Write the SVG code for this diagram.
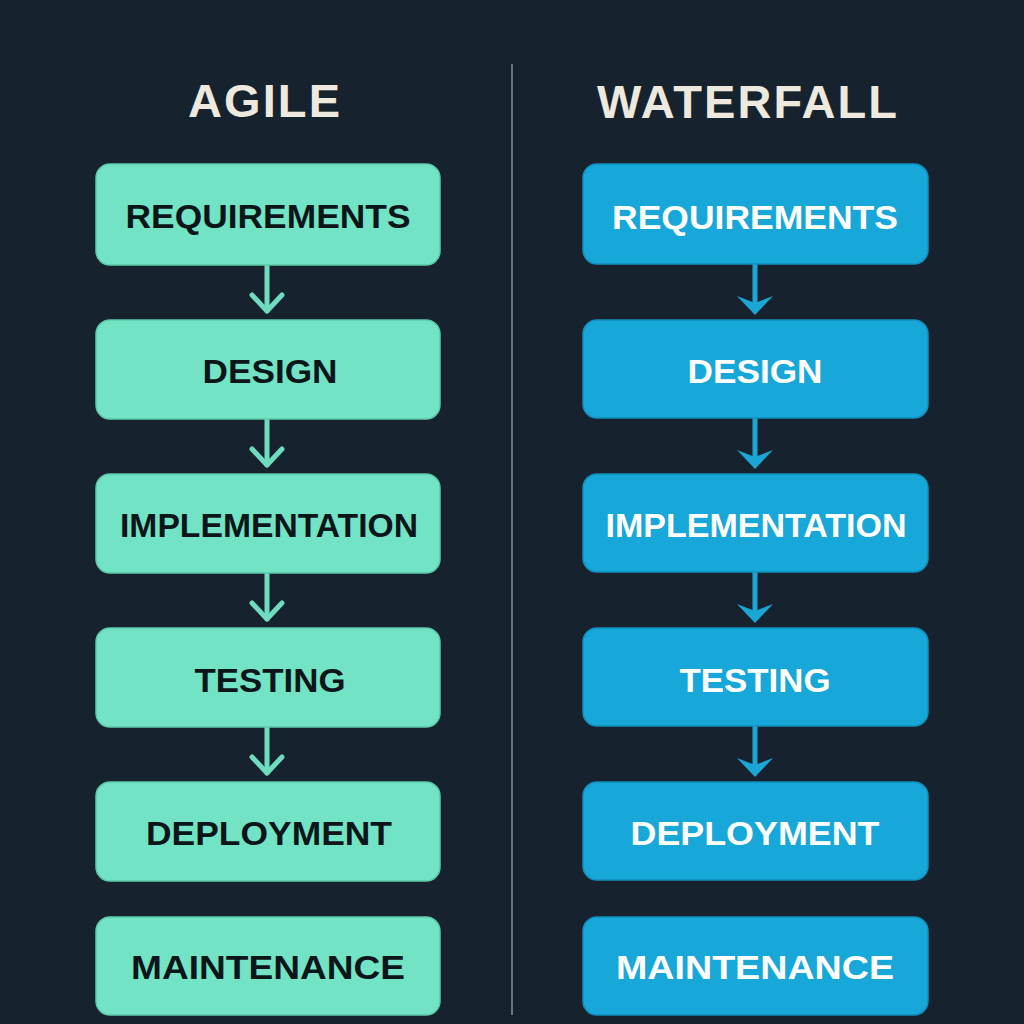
<svg xmlns="http://www.w3.org/2000/svg" width="1024" height="1024" viewBox="0 0 1024 1024">
<style>
.title{font-family:"Liberation Sans","DejaVu Sans",sans-serif;font-weight:bold;font-size:48px;fill:#eee9df;text-anchor:middle;}
.ag rect{fill:#72e3c4;stroke:#5ccaa9;stroke-width:1.5;}
.wf rect{fill:#17a7d8;stroke:#1290bd;stroke-width:1.5;}
.lbl{font-family:"Liberation Sans","DejaVu Sans",sans-serif;font-weight:bold;font-size:34px;text-anchor:middle;}
.ag text{fill:#0c1619;}
.wf text{fill:#ffffff;}
.la{stroke:#6fdcc0;stroke-width:5;fill:none;stroke-linecap:round;stroke-linejoin:round;}
.ra{stroke:#1ba6d6;stroke-width:5;fill:none;}
.rh{fill:#1ba6d6;}
</style>
<rect x="0" y="0" width="1024" height="1024" fill="#17222f"/>
<line x1="512" y1="64" x2="512" y2="1015" stroke="#7f95a3" stroke-width="1.5"/>
<text class="title" x="264" y="117" textLength="152" lengthAdjust="spacing" style="font-size:47px">AGILE</text>
<text class="title" x="747" y="118" textLength="300" lengthAdjust="spacing" style="font-size:47px">WATERFALL</text>

<g id="connectors">
  <line class="la" x1="267" y1="265" x2="267" y2="311"/>
  <polyline class="la" points="252,295 267,311 282,295"/>
  <line class="la" x1="267" y1="419" x2="267" y2="465"/>
  <polyline class="la" points="252,449 267,465 282,449"/>
  <line class="la" x1="267" y1="573" x2="267" y2="619"/>
  <polyline class="la" points="252,603 267,619 282,603"/>
  <line class="la" x1="267" y1="727" x2="267" y2="773"/>
  <polyline class="la" points="252,757 267,773 282,757"/>

  <line class="ra" x1="755" y1="264" x2="755" y2="305"/>
  <polygon class="rh" points="737,296 755,303 773,296 755,315"/>
  <line class="ra" x1="755" y1="418" x2="755" y2="459"/>
  <polygon class="rh" points="737,450 755,457 773,450 755,469"/>
  <line class="ra" x1="755" y1="572" x2="755" y2="613"/>
  <polygon class="rh" points="737,604 755,611 773,604 755,623"/>
  <line class="ra" x1="755" y1="726" x2="755" y2="767"/>
  <polygon class="rh" points="737,758 755,765 773,758 755,777"/>
</g>

<g id="agile-requirements" class="ag"><rect x="96" y="164" width="344" height="101" rx="14"/><text class="lbl" x="268" y="228" textLength="285" lengthAdjust="spacingAndGlyphs">REQUIREMENTS</text></g>
<g id="agile-design" class="ag"><rect x="96" y="320" width="344" height="99" rx="14"/><text class="lbl" x="270" y="383" textLength="135" lengthAdjust="spacingAndGlyphs">DESIGN</text></g>
<g id="agile-implementation" class="ag"><rect x="96" y="474" width="344" height="99" rx="14"/><text class="lbl" x="269" y="537" textLength="298" lengthAdjust="spacingAndGlyphs">IMPLEMENTATION</text></g>
<g id="agile-testing" class="ag"><rect x="96" y="628" width="344" height="99" rx="14"/><text class="lbl" x="270" y="692" textLength="151" lengthAdjust="spacingAndGlyphs">TESTING</text></g>
<g id="agile-deployment" class="ag"><rect x="96" y="782" width="344" height="99" rx="14"/><text class="lbl" x="269" y="845" textLength="246" lengthAdjust="spacingAndGlyphs">DEPLOYMENT</text></g>
<g id="agile-maintenance" class="ag"><rect x="96" y="917" width="344" height="98" rx="14"/><text class="lbl" x="268" y="979" textLength="274" lengthAdjust="spacingAndGlyphs">MAINTENANCE</text></g>

<g id="wf-requirements" class="wf"><rect x="583" y="164" width="345" height="100" rx="14"/><text class="lbl" x="755" y="229" textLength="286" lengthAdjust="spacingAndGlyphs">REQUIREMENTS</text></g>
<g id="wf-design" class="wf"><rect x="583" y="320" width="345" height="98" rx="14"/><text class="lbl" x="755" y="383" textLength="135" lengthAdjust="spacingAndGlyphs">DESIGN</text></g>
<g id="wf-implementation" class="wf"><rect x="583" y="474" width="345" height="98" rx="14"/><text class="lbl" x="756" y="537" textLength="301" lengthAdjust="spacingAndGlyphs">IMPLEMENTATION</text></g>
<g id="wf-testing" class="wf"><rect x="583" y="628" width="345" height="98" rx="14"/><text class="lbl" x="755" y="692" textLength="151" lengthAdjust="spacingAndGlyphs">TESTING</text></g>
<g id="wf-deployment" class="wf"><rect x="583" y="782" width="345" height="98" rx="14"/><text class="lbl" x="755" y="845" textLength="249" lengthAdjust="spacingAndGlyphs">DEPLOYMENT</text></g>
<g id="wf-maintenance" class="wf"><rect x="583" y="917" width="345" height="98" rx="14"/><text class="lbl" x="755" y="979" textLength="278" lengthAdjust="spacingAndGlyphs">MAINTENANCE</text></g>
</svg>
